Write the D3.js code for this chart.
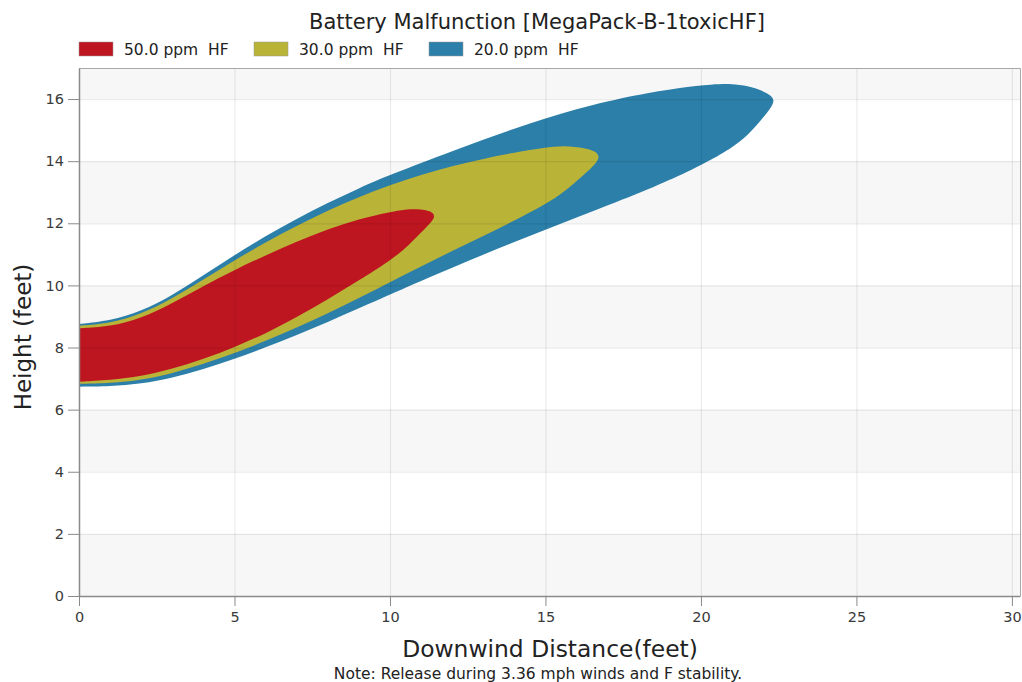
<!DOCTYPE html>
<html>
<head>
<meta charset="utf-8">
<script src="https://cdn.jsdelivr.net/npm/d3@7"></script>
<style>
  html, body { margin: 0; padding: 0; background: #ffffff; }
  svg { display: block; font-family: "DejaVu Sans", Verdana, sans-serif; }
</style>
</head>
<body>
<svg id="chart" width="1022" height="682"></svg>
<script>
// ---------------- data ----------------
const chartTitle = "Battery Malfunction [MegaPack-B-1toxicHF]";
const xAxisTitle = "Downwind Distance(feet)";
const yAxisTitle = "Height (feet)";
const noteText = "Note: Release during 3.36 mph winds and F stability.";

const xTicks = [0, 5, 10, 15, 20, 25, 30];
const yTicks = [0, 2, 4, 6, 8, 10, 12, 14, 16];
const xDomain = [0, 30.26];
const yDomain = [0, 17];

const seriesLabels = ["50.0 ppm  HF", "30.0 ppm  HF", "20.0 ppm  HF"];
const seriesColors = ["#be1621", "#b9b338", "#2b7fa9"];

// 50 ppm contour (downwind distance, upper and lower edge height)
const hf50X      = [0, 1, 2, 3, 4, 5, 6, 7, 8, 9, 10, 10.5, 10.9, 11.2, 11.35, 11.45];
const hf50Top    = [8.62, 8.67, 8.94, 9.42, 9.98, 10.50, 10.97, 11.41, 11.81, 12.14, 12.36, 12.45, 12.46, 12.41, 12.36, 12.24];
const hf50Bottom = [6.90, 6.95, 7.07, 7.31, 7.63, 8.01, 8.45, 8.97, 9.55, 10.16, 10.79, 11.2, 11.6, 11.91, 12.06, 12.24];

// 30 ppm contour
const hf30X      = [0, 1, 2, 3, 4, 5, 6, 7, 8, 9, 10, 11, 12, 13, 14, 15, 15.6, 16.3, 16.6, 16.76];
const hf30Top    = [8.70, 8.78, 9.08, 9.58, 10.19, 10.81, 11.39, 11.92, 12.41, 12.85, 13.23, 13.56, 13.84, 14.08, 14.28, 14.44, 14.51, 14.42, 14.32, 14.15];
const hf30Bottom = [6.83, 6.85, 6.95, 7.17, 7.47, 7.82, 8.21, 8.64, 9.10, 9.59, 10.10, 10.61, 11.11, 11.59, 12.08, 12.61, 13.0, 13.62, 13.90, 14.15];

// 20 ppm contour
const hf20X      = [0, 1, 2, 3, 4, 5, 6, 7, 8, 9, 10, 12, 14, 16, 18, 19.3, 20.4, 21.0, 21.5, 22.0, 22.25, 22.37];
const hf20Top    = [8.76, 8.86, 9.16, 9.68, 10.32, 10.98, 11.59, 12.15, 12.66, 13.13, 13.56, 14.33, 15.06, 15.70, 16.15, 16.37, 16.48, 16.49, 16.43, 16.26, 16.12, 15.95];
const hf20Bottom = [6.74, 6.75, 6.83, 7.02, 7.30, 7.63, 8.00, 8.40, 8.82, 9.26, 9.71, 10.58, 11.40, 12.19, 12.96, 13.52, 14.08, 14.44, 14.82, 15.40, 15.72, 15.95];

// ---------------- layout ----------------
const svg = d3.select("#chart");
const plot = { left: 79, right: 1020, top: 68, bottom: 596 };

const x = d3.scaleLinear().domain(xDomain).range([plot.left, plot.right]);
const y = d3.scaleLinear().domain(yDomain).range([plot.bottom, plot.top]);

// background bands
const bandEdges = yTicks.concat([yDomain[1]]);
const bands = [];
for (let i = 0; i < bandEdges.length - 1; i++) {
  bands.push({ y0: bandEdges[i], y1: bandEdges[i + 1], shade: i % 2 === 0 });
}
svg.append("g").selectAll("rect").data(bands).join("rect")
  .attr("x", x(xDomain[0]))
  .attr("width", x(xDomain[1]) - x(xDomain[0]))
  .attr("y", d => y(d.y1))
  .attr("height", d => y(d.y0) - y(d.y1))
  .attr("fill", d => d.shade ? "#f7f7f7" : "#ffffff");

// contour shapes
function outline(xs, top, bottom) {
  const pts = [];
  for (let i = 0; i < xs.length; i++) pts.push([xs[i], bottom[i]]);
  for (let i = xs.length - 2; i >= 0; i--) pts.push([xs[i], top[i]]);
  return pts;
}
const shapeLine = d3.line()
  .x(d => x(d[0]))
  .y(d => y(d[1]))
  .curve(d3.curveBasis);

const contours = [
  { pts: outline(hf20X, hf20Top, hf20Bottom), color: seriesColors[2] },
  { pts: outline(hf30X, hf30Top, hf30Bottom), color: seriesColors[1] },
  { pts: outline(hf50X, hf50Top, hf50Bottom), color: seriesColors[0] }
];
svg.append("g").selectAll("path").data(contours).join("path")
  .attr("d", d => shapeLine(d.pts) + "Z")
  .attr("fill", d => d.color);

// grid lines (drawn over the shapes, translucent)
const grid = svg.append("g").attr("stroke", "rgba(0,0,0,0.08)").attr("stroke-width", 1.2);
grid.selectAll("line.h").data(yTicks.slice(1)).join("line")
  .attr("x1", x(xDomain[0])).attr("x2", x(xDomain[1]))
  .attr("y1", d => y(d) + 0.5).attr("y2", d => y(d) + 0.5);
grid.selectAll("line.v").data(xTicks.slice(1)).join("line")
  .attr("y1", y(yDomain[0])).attr("y2", y(yDomain[1]))
  .attr("x1", d => x(d) + 0.5).attr("x2", d => x(d) + 0.5);

// plot frame (top and right)
svg.append("path")
  .attr("d", `M${x(xDomain[0])},${y(yDomain[1]) + 0.5}H${x(xDomain[1]) + 0.5}V${y(yDomain[0])}`)
  .attr("fill", "none").attr("stroke", "#a8a8a8").attr("stroke-width", 1);

// axes
const xAxis = svg.append("g")
  .attr("transform", `translate(0,${plot.bottom})`)
  .call(d3.axisBottom(x).tickValues(xTicks).tickSize(10).tickSizeOuter(0).tickPadding(6));
const yAxis = svg.append("g")
  .attr("transform", `translate(${plot.left},0)`)
  .call(d3.axisLeft(y).tickValues(yTicks).tickSize(11).tickSizeOuter(0).tickPadding(4));
[xAxis, yAxis].forEach(a => {
  a.select(".domain").attr("stroke", "#8a8a8a").attr("stroke-width", 1.5);
  a.selectAll(".tick line").attr("stroke", "#8a8a8a");
  a.selectAll(".tick text")
    .attr("fill", "#3a3a3a")
    .style("font-family", "'DejaVu Sans', sans-serif")
    .style("font-size", "14.5px");
});

// titles
svg.append("text")
  .attr("x", 537).attr("y", 29)
  .attr("text-anchor", "middle")
  .style("font-size", "21px").attr("fill", "#222")
  .text(chartTitle);

svg.append("text")
  .attr("x", 550).attr("y", 657)
  .attr("text-anchor", "middle")
  .style("font-size", "23.4px").attr("fill", "#222")
  .text(xAxisTitle);

svg.append("text")
  .attr("transform", "translate(31,337) rotate(-90)")
  .attr("text-anchor", "middle")
  .style("font-size", "23px").attr("fill", "#222")
  .text(yAxisTitle);

svg.append("text")
  .attr("x", 538).attr("y", 679)
  .attr("text-anchor", "middle")
  .style("font-size", "15.5px").attr("fill", "#222")
  .text(noteText);

// legend
const legend = svg.append("g").attr("transform", "translate(79,42)");
const items = legend.selectAll("g").data(seriesLabels).join("g")
  .attr("transform", (d, i) => `translate(${i * 175},0)`);
items.append("rect")
  .attr("width", 34).attr("height", 14)
  .attr("fill", (d, i) => seriesColors[i])
  .attr("stroke", "#999").attr("stroke-width", 0.5);
items.append("text")
  .attr("x", 45).attr("y", 13)
  .style("font-size", "15.5px")
  .style("white-space", "pre")
  .attr("xml:space", "preserve")
  .attr("fill", "#222")
  .text(d => d);
</script>
</body>
</html>
